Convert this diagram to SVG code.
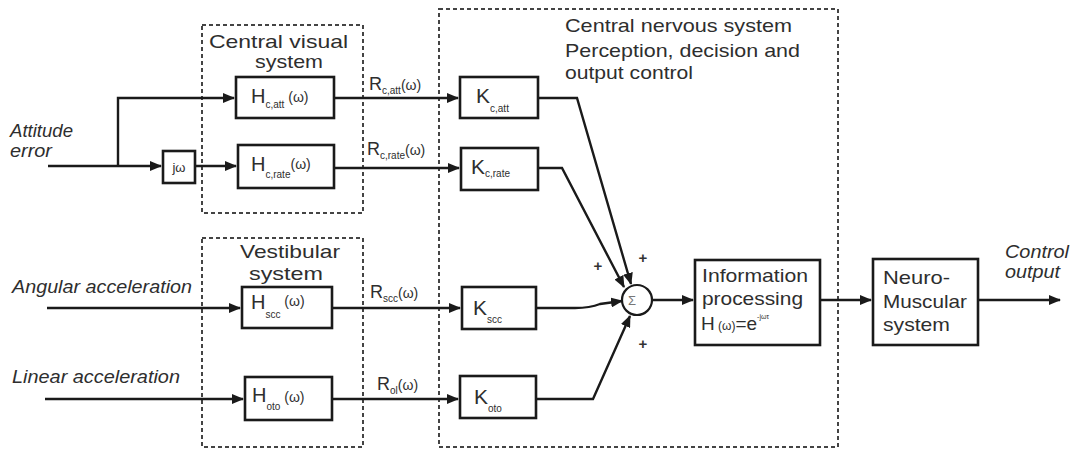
<svg xmlns="http://www.w3.org/2000/svg" width="1071" height="451" viewBox="0 0 1071 451">
<style>
text{font-family:"Liberation Sans",Arial,sans-serif;fill:#2e2e2e}
.t{font-size:19px}
.it{font-size:18px;font-style:italic}
.box{fill:#fff;stroke:#1a1a1a;stroke-width:2.6}
.grp{fill:none;stroke:#444;stroke-width:2;stroke-dasharray:4 3}
.ln{fill:none;stroke:#1a1a1a;stroke-width:2.4}
.sub{font-size:10px}
.om{font-size:14px}
.k{font-size:21px}
.h{font-size:20px}
.r{font-size:18px}
.pl{font-size:15px;font-weight:bold;fill:#333}
</style>
<defs>
<marker id="ah" markerWidth="12" markerHeight="10" refX="11" refY="5" orient="auto" markerUnits="userSpaceOnUse">
<path d="M0,0 L12,5 L0,10 Z" fill="#1a1a1a"/>
</marker>
</defs>
<rect width="1071" height="451" fill="#fff"/>

<g id="group-visual">
<rect class="grp" x="202" y="25" width="161" height="188"/>
<text class="t" x="209" y="48" textLength="139" lengthAdjust="spacingAndGlyphs">Central visual</text>
<text class="t" x="255" y="68" textLength="68" lengthAdjust="spacingAndGlyphs">system</text>
</g>
<g id="group-vestibular">
<rect class="grp" x="202" y="238" width="161" height="209"/>
<text class="t" x="240" y="258" textLength="100" lengthAdjust="spacingAndGlyphs">Vestibular</text>
<text class="t" x="249" y="280" textLength="74" lengthAdjust="spacingAndGlyphs">system</text>
</g>
<g id="group-cns">
<rect class="grp" x="439" y="9" width="399" height="438"/>
<text class="t" x="565" y="32" textLength="227" lengthAdjust="spacingAndGlyphs">Central nervous system</text>
<text class="t" x="565" y="57" textLength="235" lengthAdjust="spacingAndGlyphs">Perception, decision and</text>
<text class="t" x="565" y="79" textLength="128" lengthAdjust="spacingAndGlyphs">output control</text>
</g>

<g id="labels">
<text class="it" x="10" y="137" textLength="63" lengthAdjust="spacingAndGlyphs">Attitude</text>
<text class="it" x="10" y="157" textLength="42" lengthAdjust="spacingAndGlyphs">error</text>
<text class="it" x="12" y="293" textLength="180" lengthAdjust="spacingAndGlyphs">Angular acceleration</text>
<text class="it" x="12" y="383" textLength="168" lengthAdjust="spacingAndGlyphs">Linear acceleration</text>
<text class="it" x="1005" y="258" textLength="64" lengthAdjust="spacingAndGlyphs">Control</text>
<text class="it" x="1005" y="278" textLength="55" lengthAdjust="spacingAndGlyphs">output</text>
<text class="r" x="369" y="90">R<tspan class="sub" dy="4">c,att</tspan><tspan class="om" dy="-4">(ω)</tspan></text>
<text class="r" x="367" y="155">R<tspan class="sub" dy="4">c,rate</tspan><tspan class="om" dy="-4">(ω)</tspan></text>
<text class="r" x="370" y="298">R<tspan class="sub" dy="4">scc</tspan><tspan class="om" dy="-4">(ω)</tspan></text>
<text class="r" x="377" y="390">R<tspan class="sub" dy="4">ol</tspan><tspan class="om" dy="-4">(ω)</tspan></text>
</g>

<g id="connectors">
<path class="ln" d="M48,166 H161" marker-end="url(#ah)"/>
<path class="ln" d="M118,166 V98 H234" marker-end="url(#ah)"/>
<path class="ln" d="M195,166 H236" marker-end="url(#ah)"/>
<path class="ln" d="M334,98 H458" marker-end="url(#ah)"/>
<path class="ln" d="M334,168 H459" marker-end="url(#ah)"/>
<path class="ln" d="M47,308 H240" marker-end="url(#ah)"/>
<path class="ln" d="M332,308 H460" marker-end="url(#ah)"/>
<path class="ln" d="M45,399 H243" marker-end="url(#ah)"/>
<path class="ln" d="M332,399 H458" marker-end="url(#ah)"/>
<path class="ln" d="M538,98 H577 L631,284" marker-end="url(#ah)"/>
<path class="ln" d="M538,168 H562 L624,287" marker-end="url(#ah)"/>
<path class="ln" d="M536,308 H575 Q590,308 600,304 L622,301" marker-end="url(#ah)"/>
<path class="ln" d="M536,399 H593 L630,316" marker-end="url(#ah)"/>
<path class="ln" d="M652,300 H693" marker-end="url(#ah)"/>
<path class="ln" d="M820,300 H871" marker-end="url(#ah)"/>
<path class="ln" d="M978,300 H1060" marker-end="url(#ah)"/>
</g>

<g id="node-jw">
<rect class="box" x="163" y="151" width="32" height="32"/>
<text x="179" y="172" text-anchor="middle" style="font-size:13px">jω</text>
</g>
<g id="node-hcatt">
<rect class="box" x="236" y="77" width="98" height="41"/>
<text class="h" x="251" y="103">H<tspan class="sub" dy="5">c,att</tspan><tspan class="om" dy="-6"> (ω)</tspan></text>
</g>
<g id="node-hcrate">
<rect class="box" x="238" y="145" width="96" height="43"/>
<text class="h" x="251" y="171">H<tspan class="sub" dy="7">c,rate</tspan><tspan class="om" dy="-9">(ω)</tspan></text>
</g>
<g id="node-hscc">
<rect class="box" x="242" y="287" width="90" height="41"/>
<text class="h" x="251" y="309">H<tspan class="sub" dy="9">scc</tspan><tspan class="om" dy="-12"> (ω)</tspan></text>
</g>
<g id="node-hoto">
<rect class="box" x="245" y="377" width="87" height="43"/>
<text class="h" x="252" y="402">H<tspan class="sub" dy="8">oto</tspan><tspan class="om" dy="-8">  (ω)</tspan></text>
</g>
<g id="node-kcatt">
<rect class="box" x="460" y="77" width="78" height="41"/>
<text class="k" x="476" y="103">K<tspan class="sub" dy="9">c,att</tspan></text>
</g>
<g id="node-kcrate">
<rect class="box" x="461" y="148" width="77" height="42"/>
<text class="k" x="471" y="174">K<tspan class="sub" dy="3">c,rate</tspan></text>
</g>
<g id="node-kscc">
<rect class="box" x="462" y="287" width="74" height="42"/>
<text class="k" x="473" y="315">K<tspan class="sub" dy="8">scc</tspan></text>
</g>
<g id="node-koto">
<rect class="box" x="460" y="376" width="76" height="42"/>
<text class="k" x="474" y="404">K<tspan class="sub" dy="8">oto</tspan></text>
</g>
<g id="node-sum">
<circle cx="637" cy="300" r="15" fill="#fff" stroke="#1a1a1a" stroke-width="2.2"/>
<text x="632" y="305" style="font-size:13px;fill:#777" text-anchor="middle">Σ</text>
<text class="pl" x="598" y="271" text-anchor="middle">+</text>
<text class="pl" x="643" y="263" text-anchor="middle">+</text>
<text class="pl" x="643" y="349" text-anchor="middle">+</text>
</g>
<g id="node-info">
<rect class="box" x="695" y="260" width="125" height="85"/>
<text class="t" x="702" y="282" textLength="106" lengthAdjust="spacingAndGlyphs">Information</text>
<text class="t" x="702" y="305" textLength="101" lengthAdjust="spacingAndGlyphs">processing</text>
<text class="t" x="701" y="330">H<tspan style="font-size:12px"> (ω)</tspan>=e<tspan style="font-size:7px" dy="-11">-jωτ</tspan></text>
</g>
<g id="node-neuro">
<rect class="box" x="873" y="259" width="105" height="86"/>
<text class="t" x="883" y="284" textLength="67" lengthAdjust="spacingAndGlyphs">Neuro-</text>
<text class="t" x="883" y="308" textLength="84" lengthAdjust="spacingAndGlyphs">Muscular</text>
<text class="t" x="883" y="331" textLength="67" lengthAdjust="spacingAndGlyphs">system</text>
</g>
</svg>
